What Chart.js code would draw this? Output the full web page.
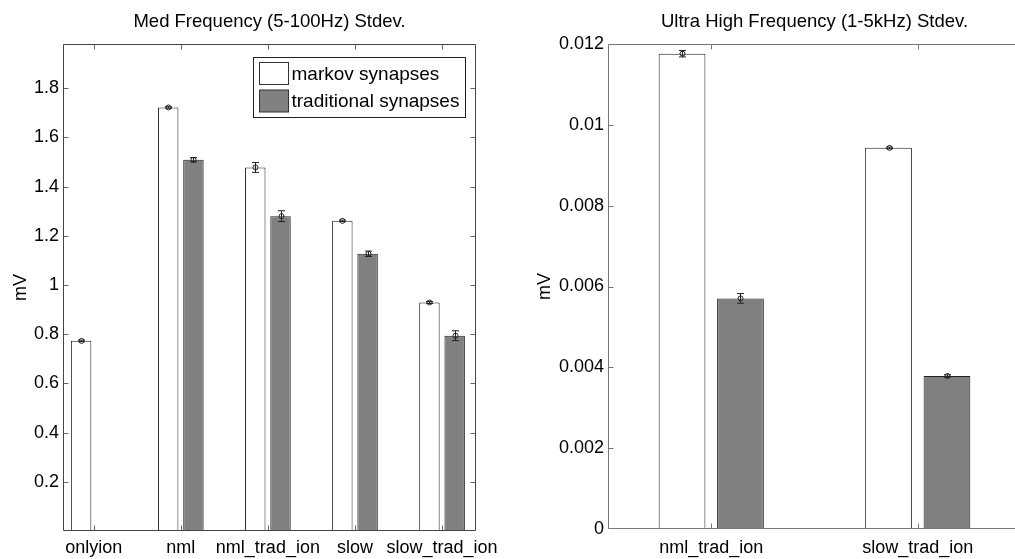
<!DOCTYPE html>
<html>
<head>
<meta charset="utf-8">
<script src="https://cdn.jsdelivr.net/npm/chart.js@4.4.1/dist/chart.umd.min.js"></script>
<style>
  html, body { margin: 0; padding: 0; background: #fff; overflow: hidden; width: 1015px; height: 559px; }
  canvas { position: absolute; top: 0; }
  #medChart { left: 0; }
  #highChart { left: 500px; }
</style>
</head>
<body>
<canvas id="medChart" width="515" height="559"></canvas>
<canvas id="highChart" width="540" height="559"></canvas>
<script>
// Med frequency panel (5-100Hz)
const medCategories = ['onlyion', 'nml', 'nml_trad_ion', 'slow', 'slow_trad_ion'];
const medMarkov = [0.773, 1.722, 1.478, 1.261, 0.929];
const medMarkovErr = [0.003, 0.003, 0.020, 0.003, 0.004];
const medTrad = [null, 1.509, 1.280, 1.127, 0.794];
const medTradErr = [null, 0.009, 0.022, 0.011, 0.020];
const medTicks = [0.2, 0.4, 0.6, 0.8, 1, 1.2, 1.4, 1.6, 1.8];

// Ultra high frequency panel (1-5kHz)
const highCategories = ['nml_trad_ion', 'slow_trad_ion'];
const highMarkov = [0.01176, 0.00943];
const highMarkovErr = [0.00008, 0.00002];
const highTrad = [0.005706, 0.003785];
const highTradErr = [0.00012, 0.00003];
const highTicks = [0, 0.002, 0.004, 0.006, 0.008, 0.01, 0.012];

const seriesNames = ['markov synapses', 'traditional synapses'];
const FONT = '"Liberation Sans", Arial, Helvetica, sans-serif';

function toPoints(values) {
  return values.map((v, i) => ({ x: i + 1, y: v })).filter(p => p.y !== null);
}

// error bars with hollow circle markers, matlab style
const errorBars = {
  id: 'errorBars',
  afterDatasetsDraw(chart) {
    const ctx = chart.ctx;
    const yScale = chart.scales.y;
    ctx.save();
    ctx.strokeStyle = '#222';
    ctx.lineWidth = 1;
    chart.data.datasets.forEach((ds, di) => {
      const meta = chart.getDatasetMeta(di);
      ds.data.forEach((p, i) => {
        const err = ds.errors[p.x - 1];
        const bar = meta.data[i];
        if (!bar || err === null) return;
        const cx = Math.round(bar.x) + 0.5;
        const yTop = yScale.getPixelForValue(p.y + err);
        const yBot = yScale.getPixelForValue(p.y - err);
        const yMid = yScale.getPixelForValue(p.y);
        ctx.beginPath();
        ctx.moveTo(cx, yTop); ctx.lineTo(cx, yBot);
        ctx.moveTo(cx - 3.5, yTop); ctx.lineTo(cx + 3.5, yTop);
        ctx.moveTo(cx - 3.5, yBot); ctx.lineTo(cx + 3.5, yBot);
        ctx.stroke();
        ctx.beginPath();
        ctx.arc(cx, yMid, 2.5, 0, Math.PI * 2);
        ctx.stroke();
      });
    });
    ctx.restore();
  }
};

// axes box, inward ticks, title and y label
const frame = {
  id: 'frame',
  afterDraw(chart, args, opts) {
    const { ctx, chartArea: a } = chart;
    const { x, y } = chart.scales;
    const L = Math.round(a.left) + 0.5, R = Math.round(a.right) - 0.5;
    const T = Math.round(a.top) + 0.5, B = Math.round(a.bottom) - 0.5;
    ctx.save();
    ctx.lineWidth = 1;
    ctx.strokeStyle = opts.tickColor;
    ctx.beginPath();
    y.ticks.forEach(t => {
      const py = Math.round(y.getPixelForValue(t.value)) + 0.5;
      if (py < T + 1 || py > B - 1) return;
      ctx.moveTo(L, py); ctx.lineTo(L + 5, py);
      ctx.moveTo(R, py); ctx.lineTo(R - 5, py);
    });
    x.ticks.forEach(t => {
      const px = Math.round(x.getPixelForValue(t.value)) + 0.5;
      ctx.moveTo(px, B); ctx.lineTo(px, B - 5);
      ctx.moveTo(px, T); ctx.lineTo(px, T + 5);
    });
    ctx.stroke();
    ctx.strokeStyle = opts.color;
    ctx.beginPath();
    ctx.moveTo(R, T); ctx.lineTo(L, T); ctx.lineTo(L, B); ctx.lineTo(R, B); ctx.lineTo(R, T);
    ctx.stroke();

    ctx.fillStyle = '#000';
    ctx.font = '18.5px ' + FONT;
    ctx.textAlign = 'center';
    ctx.textBaseline = 'middle';
    ctx.fillText(opts.title, (a.left + a.right) / 2, 22);
    ctx.font = '18px ' + FONT;
    ctx.translate(opts.labelX, (a.top + a.bottom) / 2);
    ctx.rotate(-Math.PI / 2);
    ctx.fillText('mV', 0, 0);
    ctx.restore();
  }
};

// boxed legend inside the axes (left panel only)
const boxLegend = {
  id: 'boxLegend',
  afterDraw(chart, args, opts) {
    if (!opts.show) return;
    const { ctx, chartArea: a } = chart;
    const right = Math.round(a.right) - 10.5;
    const top = Math.round(a.top) + 13.5;
    const w = 212, h = 60;
    ctx.save();
    ctx.fillStyle = '#fff';
    ctx.strokeStyle = '#222';
    ctx.lineWidth = 1;
    ctx.fillRect(right - w, top, w, h);
    ctx.strokeRect(right - w, top, w, h);
    ctx.font = '19px ' + FONT;
    ctx.textAlign = 'left';
    ctx.textBaseline = 'middle';
    chart.data.datasets.forEach((ds, i) => {
      const sy = top + 5 + i * 27.5;
      ctx.fillStyle = ds.backgroundColor;
      ctx.strokeStyle = '#333';
      ctx.fillRect(right - w + 6, sy, 29, 22);
      ctx.strokeRect(right - w + 6, sy, 29, 22);
      ctx.fillStyle = '#000';
      ctx.fillText(ds.label, right - w + 38, sy + 12);
    });
    ctx.restore();
  }
};

function makeChart(id, cfg) {
  return new Chart(document.getElementById(id), {
    type: 'bar',
    data: {
      datasets: [
        {
          label: seriesNames[0], data: toPoints(cfg.markov), errors: cfg.markovErr,
          backgroundColor: '#ffffff', borderColor: '#222', borderWidth: 1, borderSkipped: false
        },
        {
          label: seriesNames[1], data: toPoints(cfg.trad), errors: cfg.tradErr,
          backgroundColor: '#808080', borderColor: '#222', borderWidth: 1, borderSkipped: false
        }
      ]
    },
    options: {
      responsive: false,
      animation: false,
      events: [],
      categoryPercentage: cfg.catPct,
      barPercentage: cfg.barPct,
      layout: { padding: cfg.padding },
      scales: {
        x: {
          type: 'linear', offset: false,
          min: cfg.xMin, max: cfg.xMax,
          grid: { display: false, drawTicks: false },
          border: { display: false },
          afterFit: s => { s.height = cfg.xHeight; },
          afterBuildTicks: s => { s.ticks = cfg.categories.map((c, i) => ({ value: i + 1 })); },
          ticks: {
            padding: cfg.xPad, color: '#000', maxRotation: 0, autoSkip: false,
            font: { family: FONT, size: 18 },
            callback: v => cfg.categories[v - 1]
          }
        },
        y: {
          min: cfg.yMin, max: cfg.yMax,
          grid: { display: false, drawTicks: false },
          border: { display: false },
          afterFit: s => { s.width = cfg.yWidth; },
          afterBuildTicks: s => { s.ticks = cfg.yTicks.map(v => ({ value: v })); },
          ticks: {
            padding: 4, color: '#000',
            font: { family: FONT, size: 18 },
            callback: v => String(+v.toFixed(4))
          }
        }
      },
      plugins: {
        legend: { display: false },
        tooltip: { enabled: false },
        frame: { title: cfg.title, labelX: cfg.labelX, color: cfg.frameColor, tickColor: cfg.tickColor },
        boxLegend: { show: cfg.legend }
      }
    },
    plugins: [errorBars, frame, boxLegend]
  });
}

makeChart('medChart', {
  title: 'Med Frequency (5-100Hz) Stdev.',
  categories: medCategories, markov: medMarkov, markovErr: medMarkovErr,
  trad: medTrad, tradErr: medTradErr, yTicks: medTicks,
  xMin: 0.647, xMax: 5.39, yMin: 0, yMax: 1.98,
  catPct: 0.58, barPct: 0.81,
  padding: { left: 0, top: 44, right: 39, bottom: 0 },
  yWidth: 63, xHeight: 28, xPad: 6, labelX: 21,
  frameColor: '#444', tickColor: '#666', legend: true
});

makeChart('highChart', {
  title: 'Ultra High Frequency (1-5kHz) Stdev.',
  categories: highCategories, markov: highMarkov, markovErr: highMarkovErr,
  trad: highTrad, tradErr: highTradErr, yTicks: highTicks,
  xMin: 0.5, xMax: 2.5, yMin: 0, yMax: 0.012,
  catPct: 0.566, barPct: 0.80,
  padding: { left: 0, top: 44, right: 19, bottom: 0 },
  yWidth: 108, xHeight: 30, xPad: 8, labelX: 45,
  frameColor: '#777', tickColor: '#777', legend: false
});
</script>
</body>
</html>
